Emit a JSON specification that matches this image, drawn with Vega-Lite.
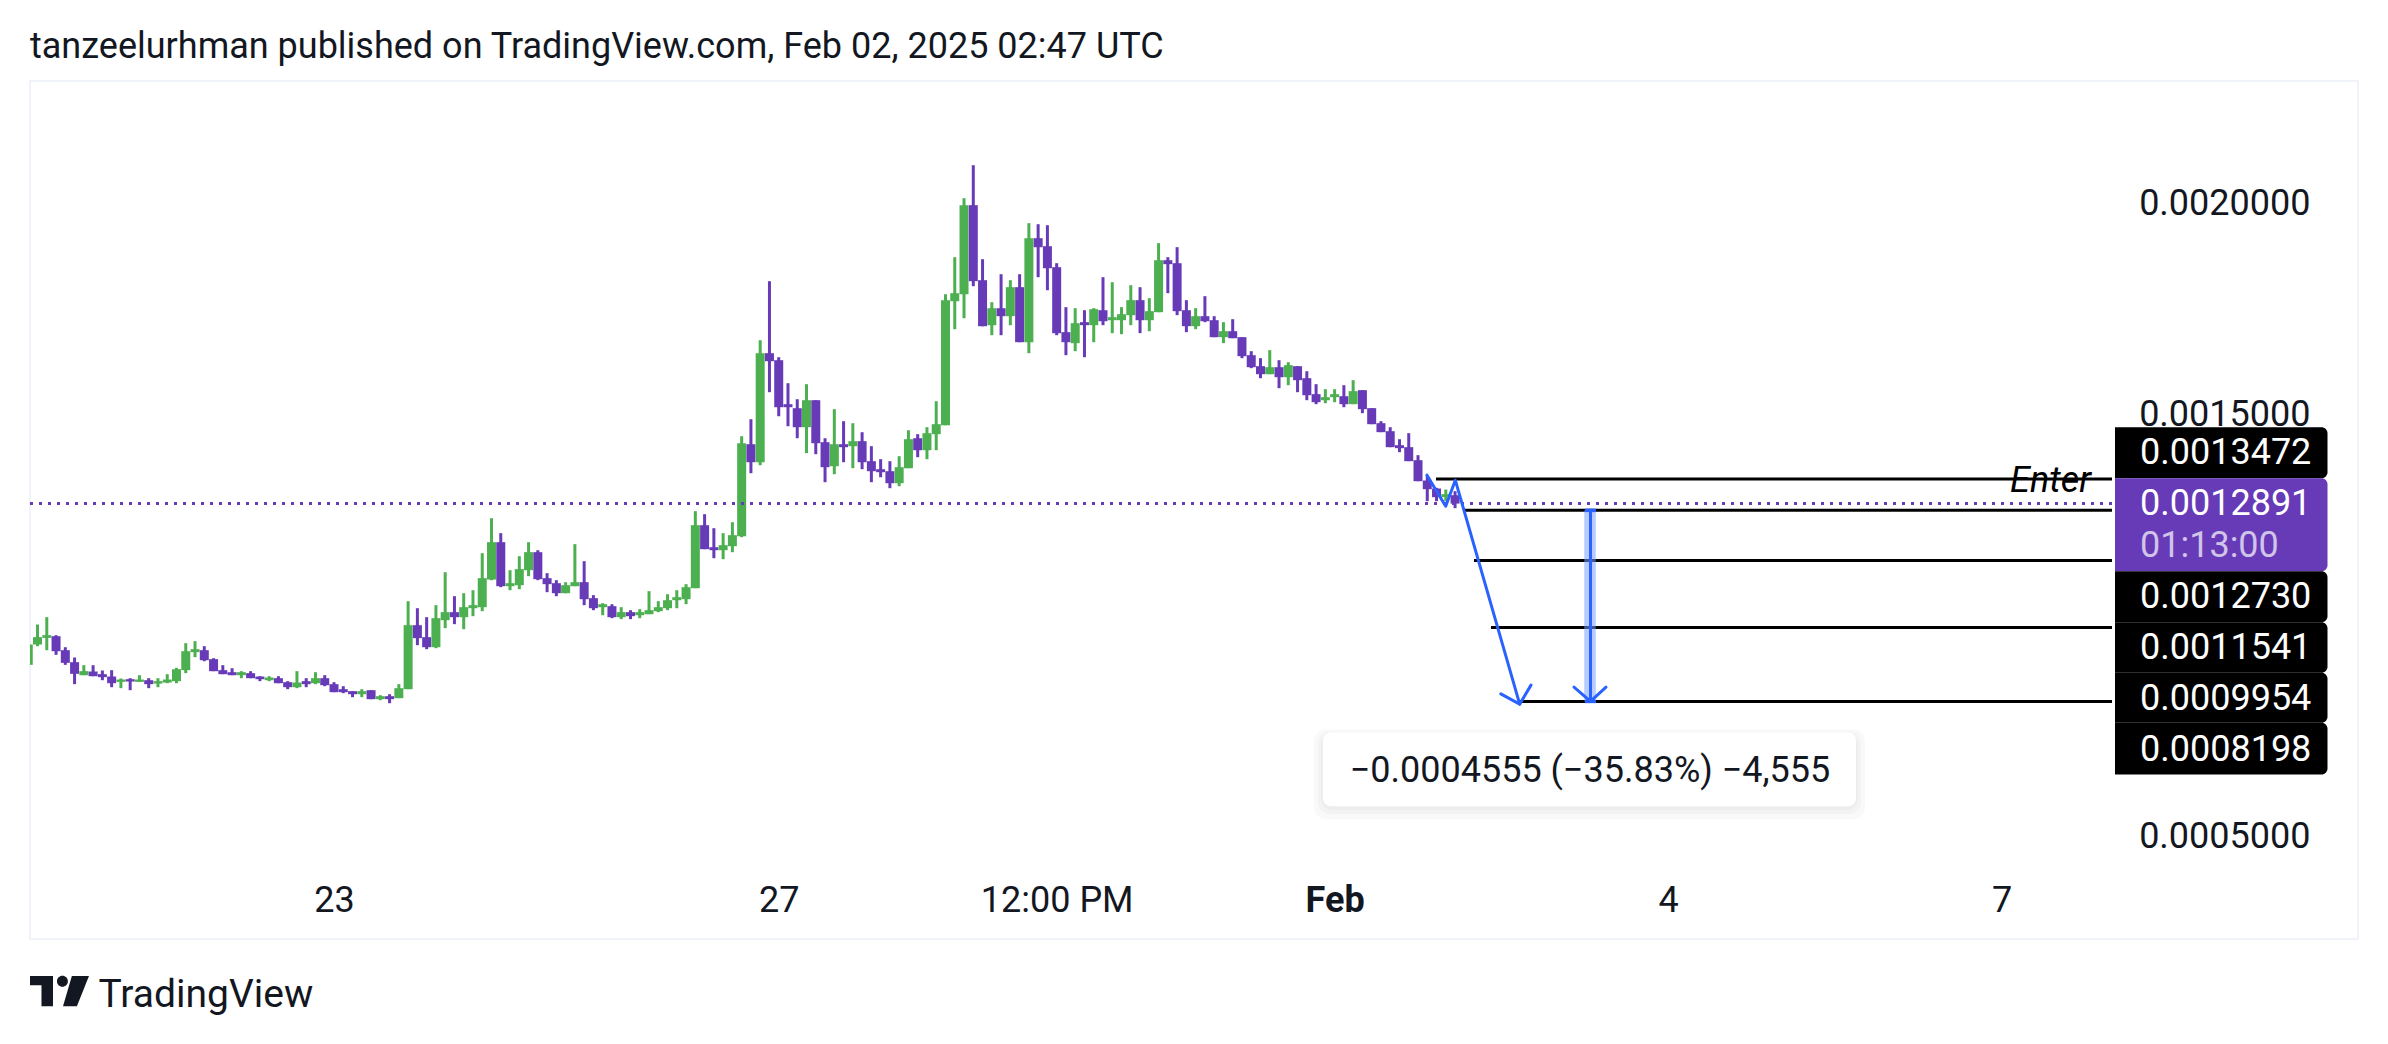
{
  "$schema": "https://vega.github.io/schema/vega-lite/v6.json",
  "autosize": {"type": "none"},
  "padding": {"left": 30, "right": 30, "top": 81, "bottom": 105},
  "width": 2328,
  "height": 858,
  "background": "#ffffff",
  "title": {"text": "tanzeelurhman published on TradingView.com, Feb 02, 2025 02:47 UTC", "anchor": "start", "frame": "group", "offset": 15, "font": "Roboto", "fontSize": 36, "fontWeight": "normal", "color": "#131722"},
  "config": {"view": {"stroke": "#f0f3fa", "strokeWidth": 2}, "font": "Roboto"},
  "datasets": {
    "candles": [
      {"t":"2025-01-20T06:00Z","o":0.0009065,"h":0.0009548,"l":0.0009065,"c":0.0009548},
      {"t":"2025-01-20T08:00Z","o":0.0009548,"h":0.0010022,"l":0.0009508,"c":0.0009722},
      {"t":"2025-01-20T10:00Z","o":0.0009706,"h":0.0010196,"l":0.0009413,"c":0.0009769},
      {"t":"2025-01-20T12:00Z","o":0.0009745,"h":0.0009769,"l":0.0009302,"c":0.0009389},
      {"t":"2025-01-20T14:00Z","o":0.0009413,"h":0.0009484,"l":0.0009065,"c":0.0009113},
      {"t":"2025-01-20T16:00Z","o":0.0009128,"h":0.0009239,"l":0.0008607,"c":0.0008852},
      {"t":"2025-01-20T18:00Z","o":0.0008820,"h":0.0009057,"l":0.0008820,"c":0.0008915},
      {"t":"2025-01-20T20:00Z","o":0.0008907,"h":0.0009057,"l":0.0008796,"c":0.0008796},
      {"t":"2025-01-20T22:00Z","o":0.0008844,"h":0.0008931,"l":0.0008701,"c":0.0008773},
      {"t":"2025-01-21T00:00Z","o":0.0008788,"h":0.0008939,"l":0.0008535,"c":0.0008630},
      {"t":"2025-01-21T02:00Z","o":0.0008662,"h":0.0008741,"l":0.0008512,"c":0.0008717},
      {"t":"2025-01-21T04:00Z","o":0.0008725,"h":0.0008749,"l":0.0008464,"c":0.0008670},
      {"t":"2025-01-21T06:00Z","o":0.0008662,"h":0.0008820,"l":0.0008662,"c":0.0008717},
      {"t":"2025-01-21T08:00Z","o":0.0008701,"h":0.0008749,"l":0.0008512,"c":0.0008607},
      {"t":"2025-01-21T10:00Z","o":0.0008622,"h":0.0008749,"l":0.0008535,"c":0.0008678},
      {"t":"2025-01-21T12:00Z","o":0.0008646,"h":0.0008844,"l":0.0008630,"c":0.0008717},
      {"t":"2025-01-21T14:00Z","o":0.0008678,"h":0.0008994,"l":0.0008630,"c":0.0008962},
      {"t":"2025-01-21T16:00Z","o":0.0008939,"h":0.0009579,"l":0.0008868,"c":0.0009389},
      {"t":"2025-01-21T18:00Z","o":0.0009366,"h":0.0009627,"l":0.0009247,"c":0.0009437},
      {"t":"2025-01-21T20:00Z","o":0.0009413,"h":0.0009508,"l":0.0009152,"c":0.0009176},
      {"t":"2025-01-21T22:00Z","o":0.0009200,"h":0.0009223,"l":0.0008915,"c":0.0008915},
      {"t":"2025-01-22T00:00Z","o":0.0008939,"h":0.0009057,"l":0.0008844,"c":0.0008844},
      {"t":"2025-01-22T02:00Z","o":0.0008891,"h":0.0008986,"l":0.0008820,"c":0.0008820},
      {"t":"2025-01-22T04:00Z","o":0.0008820,"h":0.0008915,"l":0.0008749,"c":0.0008891},
      {"t":"2025-01-22T06:00Z","o":0.0008868,"h":0.0008915,"l":0.0008749,"c":0.0008749},
      {"t":"2025-01-22T08:00Z","o":0.0008788,"h":0.0008796,"l":0.0008678,"c":0.0008725},
      {"t":"2025-01-22T10:00Z","o":0.0008701,"h":0.0008796,"l":0.0008678,"c":0.0008765},
      {"t":"2025-01-22T12:00Z","o":0.0008749,"h":0.0008796,"l":0.0008630,"c":0.0008630},
      {"t":"2025-01-22T14:00Z","o":0.0008654,"h":0.0008678,"l":0.0008488,"c":0.0008535},
      {"t":"2025-01-22T16:00Z","o":0.0008535,"h":0.0008915,"l":0.0008512,"c":0.0008646},
      {"t":"2025-01-22T18:00Z","o":0.0008678,"h":0.0008749,"l":0.0008535,"c":0.0008607},
      {"t":"2025-01-22T20:00Z","o":0.0008630,"h":0.0008891,"l":0.0008607,"c":0.0008749},
      {"t":"2025-01-22T22:00Z","o":0.0008749,"h":0.0008820,"l":0.0008559,"c":0.0008583},
      {"t":"2025-01-23T00:00Z","o":0.0008607,"h":0.0008654,"l":0.0008417,"c":0.0008417},
      {"t":"2025-01-23T02:00Z","o":0.0008488,"h":0.0008559,"l":0.0008393,"c":0.0008417},
      {"t":"2025-01-23T04:00Z","o":0.0008441,"h":0.0008441,"l":0.0008298,"c":0.0008369},
      {"t":"2025-01-23T06:00Z","o":0.0008369,"h":0.0008488,"l":0.0008298,"c":0.0008441},
      {"t":"2025-01-23T08:00Z","o":0.0008464,"h":0.0008464,"l":0.0008251,"c":0.0008251},
      {"t":"2025-01-23T10:00Z","o":0.0008251,"h":0.0008346,"l":0.0008227,"c":0.0008322},
      {"t":"2025-01-23T12:00Z","o":0.0008322,"h":0.0008369,"l":0.0008156,"c":0.0008251},
      {"t":"2025-01-23T14:00Z","o":0.0008275,"h":0.0008607,"l":0.0008275,"c":0.0008512},
      {"t":"2025-01-23T16:00Z","o":0.0008488,"h":0.0010575,"l":0.0008488,"c":0.0010006},
      {"t":"2025-01-23T18:00Z","o":0.0010006,"h":0.0010409,"l":0.0009532,"c":0.0009698},
      {"t":"2025-01-23T20:00Z","o":0.0009722,"h":0.0010196,"l":0.0009437,"c":0.0009484},
      {"t":"2025-01-23T22:00Z","o":0.0009484,"h":0.0010481,"l":0.0009461,"c":0.0010172},
      {"t":"2025-01-24T00:00Z","o":0.0010125,"h":0.0011263,"l":0.0009935,"c":0.0010315},
      {"t":"2025-01-24T02:00Z","o":0.0010315,"h":0.0010694,"l":0.0010030,"c":0.0010196},
      {"t":"2025-01-24T04:00Z","o":0.0010196,"h":0.0010765,"l":0.0009911,"c":0.0010433},
      {"t":"2025-01-24T06:00Z","o":0.0010409,"h":0.0010836,"l":0.0010220,"c":0.0010481},
      {"t":"2025-01-24T08:00Z","o":0.0010433,"h":0.0011714,"l":0.0010338,"c":0.0011121},
      {"t":"2025-01-24T10:00Z","o":0.0011089,"h":0.0012544,"l":0.0011074,"c":0.0011975},
      {"t":"2025-01-24T12:00Z","o":0.0011975,"h":0.0012189,"l":0.0010908,"c":0.0010931},
      {"t":"2025-01-24T14:00Z","o":0.0010931,"h":0.0011311,"l":0.0010836,"c":0.0011002},
      {"t":"2025-01-24T16:00Z","o":0.0010955,"h":0.0011643,"l":0.0010860,"c":0.0011335},
      {"t":"2025-01-24T18:00Z","o":0.0011311,"h":0.0011975,"l":0.0011169,"c":0.0011738},
      {"t":"2025-01-24T20:00Z","o":0.0011738,"h":0.0011785,"l":0.0011074,"c":0.0011097},
      {"t":"2025-01-24T22:00Z","o":0.0011121,"h":0.0011240,"l":0.0010789,"c":0.0010979},
      {"t":"2025-01-25T00:00Z","o":0.0011002,"h":0.0011074,"l":0.0010694,"c":0.0010765},
      {"t":"2025-01-25T02:00Z","o":0.0010765,"h":0.0011026,"l":0.0010765,"c":0.0010955},
      {"t":"2025-01-25T04:00Z","o":0.0010931,"h":0.0011928,"l":0.0010931,"c":0.0011026},
      {"t":"2025-01-25T06:00Z","o":0.0011026,"h":0.0011524,"l":0.0010481,"c":0.0010623},
      {"t":"2025-01-25T08:00Z","o":0.0010647,"h":0.0010718,"l":0.0010362,"c":0.0010409},
      {"t":"2025-01-25T10:00Z","o":0.0010433,"h":0.0010528,"l":0.0010243,"c":0.0010504},
      {"t":"2025-01-25T12:00Z","o":0.0010457,"h":0.0010504,"l":0.0010172,"c":0.0010196},
      {"t":"2025-01-25T14:00Z","o":0.0010196,"h":0.0010433,"l":0.0010149,"c":0.0010315},
      {"t":"2025-01-25T16:00Z","o":0.0010315,"h":0.0010362,"l":0.0010149,"c":0.0010220},
      {"t":"2025-01-25T18:00Z","o":0.0010243,"h":0.0010386,"l":0.0010172,"c":0.0010315},
      {"t":"2025-01-25T20:00Z","o":0.0010267,"h":0.0010813,"l":0.0010267,"c":0.0010362},
      {"t":"2025-01-25T22:00Z","o":0.0010338,"h":0.0010575,"l":0.0010315,"c":0.0010433},
      {"t":"2025-01-26T00:00Z","o":0.0010409,"h":0.0010741,"l":0.0010362,"c":0.0010599},
      {"t":"2025-01-26T02:00Z","o":0.0010599,"h":0.0010836,"l":0.0010409,"c":0.0010670},
      {"t":"2025-01-26T04:00Z","o":0.0010623,"h":0.0010979,"l":0.0010504,"c":0.0010908},
      {"t":"2025-01-26T06:00Z","o":0.0010884,"h":0.0012710,"l":0.0010884,"c":0.0012378},
      {"t":"2025-01-26T08:00Z","o":0.0012378,"h":0.0012639,"l":0.0011809,"c":0.0011809},
      {"t":"2025-01-26T10:00Z","o":0.0011856,"h":0.0012307,"l":0.0011595,"c":0.0011785},
      {"t":"2025-01-26T12:00Z","o":0.0011785,"h":0.0012189,"l":0.0011572,"c":0.0011904},
      {"t":"2025-01-26T14:00Z","o":0.0011880,"h":0.0012449,"l":0.0011738,"c":0.0012141},
      {"t":"2025-01-26T16:00Z","o":0.0012117,"h":0.0014489,"l":0.0012094,"c":0.0014323},
      {"t":"2025-01-26T18:00Z","o":0.0014299,"h":0.0014892,"l":0.0013611,"c":0.0013872},
      {"t":"2025-01-26T20:00Z","o":0.0013872,"h":0.0016766,"l":0.0013801,"c":0.0016458},
      {"t":"2025-01-26T22:00Z","o":0.0016458,"h":0.0018166,"l":0.0015533,"c":0.0016268},
      {"t":"2025-01-27T00:00Z","o":0.0016292,"h":0.0016363,"l":0.0014963,"c":0.0015177},
      {"t":"2025-01-27T02:00Z","o":0.0015248,"h":0.0015746,"l":0.0014726,"c":0.0015177},
      {"t":"2025-01-27T04:00Z","o":0.0015153,"h":0.0015367,"l":0.0014441,"c":0.0014703},
      {"t":"2025-01-27T06:00Z","o":0.0014703,"h":0.0015723,"l":0.0014086,"c":0.0015343},
      {"t":"2025-01-27T08:00Z","o":0.0015343,"h":0.0015343,"l":0.0014062,"c":0.0014323},
      {"t":"2025-01-27T10:00Z","o":0.0014347,"h":0.0014441,"l":0.0013398,"c":0.0013754},
      {"t":"2025-01-27T12:00Z","o":0.0013777,"h":0.0015130,"l":0.0013588,"c":0.0014299},
      {"t":"2025-01-27T14:00Z","o":0.0014299,"h":0.0014845,"l":0.0013872,"c":0.0014228},
      {"t":"2025-01-27T16:00Z","o":0.0014252,"h":0.0014797,"l":0.0013730,"c":0.0014371},
      {"t":"2025-01-27T18:00Z","o":0.0014371,"h":0.0014584,"l":0.0013706,"c":0.0013872},
      {"t":"2025-01-27T20:00Z","o":0.0013896,"h":0.0014252,"l":0.0013398,"c":0.0013659},
      {"t":"2025-01-27T22:00Z","o":0.0013706,"h":0.0013944,"l":0.0013516,"c":0.0013635},
      {"t":"2025-01-28T00:00Z","o":0.0013659,"h":0.0013896,"l":0.0013256,"c":0.0013374},
      {"t":"2025-01-28T02:00Z","o":0.0013374,"h":0.0014015,"l":0.0013303,"c":0.0013754},
      {"t":"2025-01-28T04:00Z","o":0.0013730,"h":0.0014631,"l":0.0013730,"c":0.0014418},
      {"t":"2025-01-28T06:00Z","o":0.0014441,"h":0.0014537,"l":0.0013991,"c":0.0014157},
      {"t":"2025-01-28T08:00Z","o":0.0014157,"h":0.0014703,"l":0.0013944,"c":0.0014560},
      {"t":"2025-01-28T10:00Z","o":0.0014537,"h":0.0015319,"l":0.0014157,"c":0.0014774},
      {"t":"2025-01-28T12:00Z","o":0.0014750,"h":0.0017857,"l":0.0014750,"c":0.0017715},
      {"t":"2025-01-28T14:00Z","o":0.0017691,"h":0.0018735,"l":0.0017027,"c":0.0017881},
      {"t":"2025-01-28T16:00Z","o":0.0017857,"h":0.0020135,"l":0.0017288,"c":0.0019969},
      {"t":"2025-01-28T18:00Z","o":0.0019969,"h":0.0020917,"l":0.0018047,"c":0.0018166},
      {"t":"2025-01-28T20:00Z","o":0.0018190,"h":0.0018688,"l":0.0017098,"c":0.0017098},
      {"t":"2025-01-28T22:00Z","o":0.0017122,"h":0.0017668,"l":0.0016885,"c":0.0017525},
      {"t":"2025-01-29T00:00Z","o":0.0017525,"h":0.0018332,"l":0.0016885,"c":0.0017336},
      {"t":"2025-01-29T02:00Z","o":0.0017336,"h":0.0018190,"l":0.0017122,"c":0.0018024},
      {"t":"2025-01-29T04:00Z","o":0.0018024,"h":0.0018332,"l":0.0016719,"c":0.0016719},
      {"t":"2025-01-29T06:00Z","o":0.0016719,"h":0.0019542,"l":0.0016458,"c":0.0019186},
      {"t":"2025-01-29T08:00Z","o":0.0019186,"h":0.0019518,"l":0.0018261,"c":0.0018972},
      {"t":"2025-01-29T10:00Z","o":0.0018996,"h":0.0019494,"l":0.0017952,"c":0.0018474},
      {"t":"2025-01-29T12:00Z","o":0.0018498,"h":0.0018593,"l":0.0016885,"c":0.0016932},
      {"t":"2025-01-29T14:00Z","o":0.0016957,"h":0.0017550,"l":0.0016411,"c":0.0016719},
      {"t":"2025-01-29T16:00Z","o":0.0016696,"h":0.0017526,"l":0.0016506,"c":0.0017170},
      {"t":"2025-01-29T18:00Z","o":0.0017194,"h":0.0017478,"l":0.0016363,"c":0.0017123},
      {"t":"2025-01-29T20:00Z","o":0.0017123,"h":0.0017526,"l":0.0016719,"c":0.0017502},
      {"t":"2025-01-29T22:00Z","o":0.0017478,"h":0.0018261,"l":0.0017123,"c":0.0017217},
      {"t":"2025-01-30T00:00Z","o":0.0017241,"h":0.0018143,"l":0.0016933,"c":0.0017312},
      {"t":"2025-01-30T02:00Z","o":0.0017241,"h":0.0017550,"l":0.0016909,"c":0.0017383},
      {"t":"2025-01-30T04:00Z","o":0.0017360,"h":0.0018071,"l":0.0017123,"c":0.0017716},
      {"t":"2025-01-30T06:00Z","o":0.0017716,"h":0.0018024,"l":0.0016933,"c":0.0017241},
      {"t":"2025-01-30T08:00Z","o":0.0017241,"h":0.0017763,"l":0.0016980,"c":0.0017455},
      {"t":"2025-01-30T10:00Z","o":0.0017431,"h":0.0019068,"l":0.0017431,"c":0.0018664},
      {"t":"2025-01-30T12:00Z","o":0.0018664,"h":0.0018736,"l":0.0017882,"c":0.0018570},
      {"t":"2025-01-30T14:00Z","o":0.0018593,"h":0.0018973,"l":0.0017360,"c":0.0017455},
      {"t":"2025-01-30T16:00Z","o":0.0017478,"h":0.0017716,"l":0.0016957,"c":0.0017099},
      {"t":"2025-01-30T18:00Z","o":0.0017099,"h":0.0017526,"l":0.0017028,"c":0.0017336},
      {"t":"2025-01-30T20:00Z","o":0.0017336,"h":0.0017811,"l":0.0017194,"c":0.0017217},
      {"t":"2025-01-30T22:00Z","o":0.0017241,"h":0.0017336,"l":0.0016838,"c":0.0016838},
      {"t":"2025-01-31T00:00Z","o":0.0016838,"h":0.0017194,"l":0.0016696,"c":0.0016980},
      {"t":"2025-01-31T02:00Z","o":0.0016980,"h":0.0017265,"l":0.0016814,"c":0.0016814},
      {"t":"2025-01-31T04:00Z","o":0.0016838,"h":0.0016838,"l":0.0016340,"c":0.0016387},
      {"t":"2025-01-31T06:00Z","o":0.0016411,"h":0.0016506,"l":0.0016103,"c":0.0016126},
      {"t":"2025-01-31T08:00Z","o":0.0016150,"h":0.0016340,"l":0.0015865,"c":0.0015960},
      {"t":"2025-01-31T10:00Z","o":0.0015960,"h":0.0016530,"l":0.0015960,"c":0.0016126},
      {"t":"2025-01-31T12:00Z","o":0.0016126,"h":0.0016292,"l":0.0015628,"c":0.0015889},
      {"t":"2025-01-31T14:00Z","o":0.0015889,"h":0.0016245,"l":0.0015699,"c":0.0016174},
      {"t":"2025-01-31T16:00Z","o":0.0016150,"h":0.0016150,"l":0.0015533,"c":0.0015818},
      {"t":"2025-01-31T18:00Z","o":0.0015865,"h":0.0016031,"l":0.0015343,"c":0.0015462},
      {"t":"2025-01-31T20:00Z","o":0.0015486,"h":0.0015723,"l":0.0015249,"c":0.0015296},
      {"t":"2025-01-31T22:00Z","o":0.0015343,"h":0.0015604,"l":0.0015272,"c":0.0015415},
      {"t":"2025-02-01T00:00Z","o":0.0015415,"h":0.0015604,"l":0.0015296,"c":0.0015486},
      {"t":"2025-02-01T02:00Z","o":0.0015438,"h":0.0015699,"l":0.0015177,"c":0.0015249},
      {"t":"2025-02-01T04:00Z","o":0.0015249,"h":0.0015818,"l":0.0015249,"c":0.0015557},
      {"t":"2025-02-01T06:00Z","o":0.0015581,"h":0.0015581,"l":0.0015035,"c":0.0015130},
      {"t":"2025-02-01T08:00Z","o":0.0015154,"h":0.0015154,"l":0.0014774,"c":0.0014774},
      {"t":"2025-02-01T10:00Z","o":0.0014798,"h":0.0014845,"l":0.0014585,"c":0.0014585},
      {"t":"2025-02-01T12:00Z","o":0.0014608,"h":0.0014703,"l":0.0014229,"c":0.0014229},
      {"t":"2025-02-01T14:00Z","o":0.0014276,"h":0.0014418,"l":0.0014110,"c":0.0014205},
      {"t":"2025-02-01T16:00Z","o":0.0014229,"h":0.0014561,"l":0.0013897,"c":0.0013897},
      {"t":"2025-02-01T18:00Z","o":0.0013920,"h":0.0014039,"l":0.0013422,"c":0.0013422},
      {"t":"2025-02-01T20:00Z","o":0.0013438,"h":0.0013564,"l":0.0012948,"c":0.0013232},
      {"t":"2025-02-01T22:00Z","o":0.0013248,"h":0.0013264,"l":0.0012948,"c":0.0013043},
      {"t":"2025-02-02T00:00Z","o":0.0013043,"h":0.0013224,"l":0.0012948,"c":0.0013114},
      {"t":"2025-02-02T02:00Z","o":0.0013090,"h":0.0013185,"l":0.0012782,"c":0.0012891}
    ],
    "last": [{"start": 1737354156000, "end": 1738972116000, "price": 0.0012891}],
    "levels": [
      {"start": 1738446784000, "end": 1738972116000, "price": 0.0013472},
      {"start": 1738467766000, "end": 1738972116000, "price": 0.001273},
      {"start": 1738476314000, "end": 1738972116000, "price": 0.0011541},
      {"start": 1738489526000, "end": 1738972116000, "price": 0.0009954},
      {"start": 1738512062000, "end": 1738972116000, "price": 0.0008198}
    ],
    "paths": [
      {"path": "zigzag", "n": 1, "t": 1738439790000, "price": 0.0013565},
      {"path": "zigzag", "n": 2, "t": 1738454325000, "price": 0.0012829},
      {"path": "zigzag", "n": 3, "t": 1738461786000, "price": 0.0013446},
      {"path": "zigzag", "n": 4, "t": 1738511829000, "price": 0.0008133},
      {"path": "head", "n": 1, "t": 1738497142000, "price": 0.0008377},
      {"path": "head", "n": 2, "t": 1738511829000, "price": 0.0008133},
      {"path": "head", "n": 3, "t": 1738520610000, "price": 0.0008584},
      {"path": "measure", "n": 1, "t": 1738566849000, "price": 0.001273},
      {"path": "measure", "n": 2, "t": 1738566849000, "price": 0.0008198},
      {"path": "measurehead", "n": 1, "t": 1738554026000, "price": 0.0008536},
      {"path": "measurehead", "n": 2, "t": 1738566849000, "price": 0.0008198},
      {"path": "measurehead", "n": 3, "t": 1738578894000, "price": 0.0008536}
    ],
    "band": [{"t": 1738566460000, "top": 0.001273, "bottom": 0.0008198}],
    "caps": [
      {"start": 1738562575000, "end": 1738571123000, "price": 0.001273},
      {"start": 1738562575000, "end": 1738571123000, "price": 0.0008198}
    ],
    "shadow": [
      {"start": 1738351976000, "end": 1738780168000, "top": 0.000754, "bottom": 0.0005405},
      {"start": 1738355084000, "end": 1738777060000, "top": 0.0007493, "bottom": 0.0005523},
      {"start": 1738357416000, "end": 1738774728000, "top": 0.0007445, "bottom": 0.0005618}
    ],
    "callout": [{"start": 1738358970000, "end": 1738773174000, "top": 0.0007469, "bottom": 0.0005713, "mid": 1738566460000, "midprice": 0.0006544, "label": "−0.0004555 (−35.83%) −4,555"}],
    "tags": [
      {"top": 0.0014703, "bottom": 0.0013494, "kind": "line"},
      {"top": 0.0013494, "bottom": 0.0011288, "kind": "last"},
      {"top": 0.0011288, "bottom": 0.0010078, "kind": "line"},
      {"top": 0.0010078, "bottom": 0.0008875, "kind": "line"},
      {"top": 0.0008875, "bottom": 0.0007689, "kind": "line"},
      {"top": 0.0007689, "bottom": 0.0006465, "kind": "line"}
    ],
    "taglabels": [
      {"label": "0.0013472", "price": 0.0014094},
      {"label": "0.0012891", "price": 0.001287},
      {"label": "01:13:00", "price": 0.0011881},
      {"label": "0.0012730", "price": 0.0010671},
      {"label": "0.0011541", "price": 0.0009468},
      {"label": "0.0009954", "price": 0.0008259},
      {"label": "0.0008198", "price": 0.0007042}
    ],
    "enter": [{"t": 1738955796000, "price": 0.001342, "label": "Enter"}],
    "logo": [{"t": 1737377064000, "price": 0.0001325}]
  },
  "layer": [
    {
      "data": {"name": "candles"},
      "mark": {"type": "rule", "strokeWidth": 3, "clip": true},
      "encoding": {
        "x": {
          "field": "t",
          "type": "temporal",
          "title": "TradingView",
          "scale": {"type": "utc", "domain": [1737354156000, 1739163287000], "padding": 0},
          "axis": {
            "values": [1737590400000, 1737936000000, 1738152000000, 1738368000000, 1738627200000, 1738886400000],
            "labelExpr": "utchours(datum.value) == 12 ? '12:00 PM' : utcdate(datum.value) == 1 ? 'Feb' : '' + utcdate(datum.value)",
            "labelFontWeight": {"condition": {"test": "utcdate(datum.value) == 1", "value": "bold"}, "value": "normal"},
            "labelFont": "Roboto",
            "labelFontSize": 36,
            "labelColor": "#131722",
            "labelPadding": -56,
            "labelOverlap": false,
            "labelBound": false,
            "labelFlush": false,
            "domain": false,
            "ticks": false,
            "grid": false,
            "titleFont": "Roboto",
            "titleFontSize": 39,
            "titleFontWeight": "normal",
            "titleColor": "#131722",
            "titleAnchor": "start",
            "titleAlign": "left",
            "titleBaseline": "middle",
            "titleX": 68,
            "titleY": 55
          }
        },
        "y": {
          "field": "l",
          "type": "quantitative",
          "title": null,
          "scale": {"domain": [0.0002562, 0.0022915], "nice": false, "zero": false},
          "axis": {
            "orient": "right",
            "values": [0.0005, 0.0015, 0.002],
            "format": ".7f",
            "labelFont": "Roboto",
            "labelFontSize": 36,
            "labelColor": "#131722",
            "offset": -48,
            "labelPadding": 0,
            "labelAlign": "right",
            "domain": false,
            "ticks": false,
            "grid": false
          }
        },
        "y2": {"field": "h"},
        "color": {"condition": {"test": "datum.c >= datum.o", "value": "#4CAF50"}, "value": "#673AB7"}
      }
    },
    {
      "data": {"name": "candles"},
      "mark": {"type": "bar", "width": 9, "clip": true},
      "encoding": {
        "x": {"field": "t", "type": "temporal"},
        "y": {"field": "o", "type": "quantitative"},
        "y2": {"field": "c"},
        "color": {"condition": {"test": "datum.c >= datum.o", "value": "#4CAF50"}, "value": "#673AB7"}
      }
    },
    {
      "data": {"name": "last"},
      "mark": {"type": "rule", "color": "#673AB7", "strokeWidth": 3, "strokeDash": [3, 6]},
      "encoding": {
        "x": {"field": "start", "type": "temporal"},
        "x2": {"field": "end"},
        "y": {"field": "price", "type": "quantitative"}
      }
    },
    {
      "data": {"name": "levels"},
      "mark": {"type": "rule", "color": "#000000", "strokeWidth": 3},
      "encoding": {
        "x": {"field": "start", "type": "temporal"},
        "x2": {"field": "end"},
        "y": {"field": "price", "type": "quantitative"}
      }
    },
    {
      "data": {"name": "band"},
      "mark": {"type": "bar", "width": 11.5, "color": "#7aa0ff", "opacity": 0.55},
      "encoding": {
        "x": {"field": "t", "type": "temporal"},
        "y": {"field": "top", "type": "quantitative"},
        "y2": {"field": "bottom"}
      }
    },
    {
      "data": {"name": "caps"},
      "mark": {"type": "rule", "color": "#2962FF", "strokeWidth": 3.5},
      "encoding": {
        "x": {"field": "start", "type": "temporal"},
        "x2": {"field": "end"},
        "y": {"field": "price", "type": "quantitative"}
      }
    },
    {
      "data": {"name": "paths"},
      "mark": {"type": "line", "color": "#2962FF", "strokeWidth": 3, "strokeCap": "round", "strokeJoin": "round"},
      "encoding": {
        "x": {"field": "t", "type": "temporal"},
        "y": {"field": "price", "type": "quantitative"},
        "detail": {"field": "path"},
        "order": {"field": "n"}
      }
    },
    {
      "data": {"name": "shadow"},
      "mark": {"type": "rect", "color": "#000000", "opacity": 0.025, "cornerRadius": 12},
      "encoding": {
        "x": {"field": "start", "type": "temporal"},
        "x2": {"field": "end"},
        "y": {"field": "top", "type": "quantitative"},
        "y2": {"field": "bottom"}
      }
    },
    {
      "data": {"name": "callout"},
      "mark": {"type": "rect", "color": "#ffffff", "opacity": 1, "cornerRadius": 8},
      "encoding": {
        "x": {"field": "start", "type": "temporal"},
        "x2": {"field": "end"},
        "y": {"field": "top", "type": "quantitative"},
        "y2": {"field": "bottom"}
      }
    },
    {
      "data": {"name": "callout"},
      "mark": {"type": "text", "font": "Roboto", "fontSize": 36, "color": "#131722", "align": "center", "baseline": "middle"},
      "encoding": {
        "x": {"field": "mid", "type": "temporal"},
        "y": {"field": "midprice", "type": "quantitative"},
        "text": {"field": "label"}
      }
    },
    {
      "data": {"name": "tags"},
      "mark": {"type": "rect", "opacity": 1, "cornerRadiusTopRight": 6, "cornerRadiusBottomRight": 6},
      "encoding": {
        "x": {"datum": 1738974447000, "type": "temporal"},
        "x2": {"datum": 1739139585000},
        "y": {"field": "top", "type": "quantitative"},
        "y2": {"field": "bottom"},
        "color": {"condition": {"test": "datum.kind == 'last'", "value": "#673AB7"}, "value": "#000000"}
      }
    },
    {
      "data": {"name": "taglabels"},
      "mark": {"type": "text", "font": "Roboto", "fontSize": 36, "align": "left", "baseline": "middle"},
      "encoding": {
        "x": {"datum": 1738993875000, "type": "temporal"},
        "y": {"field": "price", "type": "quantitative"},
        "text": {"field": "label"},
        "color": {"condition": {"test": "datum.label == '01:13:00'", "value": "#D1C4E9"}, "value": "#ffffff"}
      }
    },
    {
      "data": {"name": "enter"},
      "mark": {"type": "text", "font": "Roboto", "fontSize": 36, "fontStyle": "italic", "color": "#000000", "align": "right", "baseline": "middle"},
      "encoding": {
        "x": {"field": "t", "type": "temporal"},
        "y": {"field": "price", "type": "quantitative"},
        "text": {"field": "label"}
      }
    },
    {
      "data": {"name": "logo"},
      "mark": {"type": "point", "filled": true, "opacity": 1, "color": "#131722", "size": 3481, "shape": "M-1-.51H-.22V.51H-.61V-.2H-1ZM.42-.51H1L.59.51H.12ZM.1-.525A.186.186 0 1 0 .1-.153A.186.186 0 1 0 .1-.525Z"},
      "encoding": {
        "x": {"field": "t", "type": "temporal"},
        "y": {"field": "price", "type": "quantitative"}
      }
    }
  ]
}
